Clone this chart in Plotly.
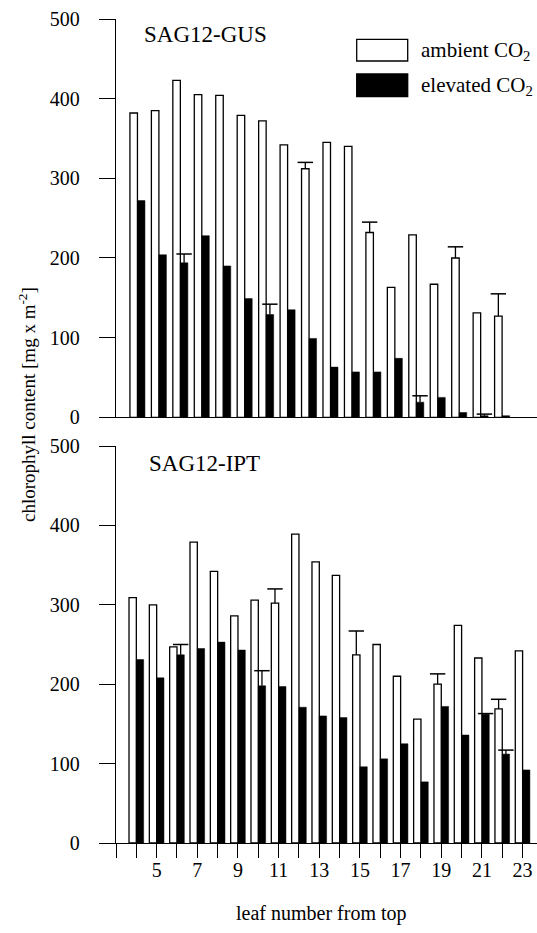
import plotly.graph_objects as go

# ---------------- data ----------------
top_leaves = list(range(4, 22))
top_ambient = [382, 385, 423, 405, 404, 379, 372, 342, 312, 345, 340, 232, 163, 229, 167, 200, 131, 127]
top_elevated = [272, 204, 194, 228, 190, 149, 129, 135, 99, 63, 57, 57, 74, 19, 25, 6, 2, 2]
top_ambient_err = [None, None, None, None, None, None, None, None, 8, None, None, 13, None, None, None, 14, None, 28]
top_elevated_err = [None, None, 11, None, None, None, 13, None, None, None, None, None, None, 8, None, None, 2, None]

bot_leaves = list(range(4, 24))
bot_ambient = [309, 300, 247, 379, 342, 286, 306, 302, 389, 354, 337, 237, 250, 210, 156, 200, 274, 233, 169, 242]
bot_elevated = [231, 208, 237, 245, 253, 243, 198, 197, 171, 160, 158, 96, 106, 125, 77, 172, 136, 162, 112, 92]
bot_ambient_err = [None, None, None, None, None, None, None, 18, None, None, None, 30, None, None, None, 13, None, None, 12, None]
bot_elevated_err = [None, None, 13, None, None, None, 19, None, None, None, None, None, None, None, None, None, None, 1, 5, None]

x_minor_tickvals = list(range(3, 24))
x_tickvals = [5, 7, 9, 11, 13, 15, 17, 19, 21, 23]
x_ticktext = ["5", "7", "9", "11", "13", "15", "17", "19", "21", "23"]
y_tickvals = [0, 100, 200, 300, 400, 500]

panel_labels = ["SAG12-GUS", "SAG12-IPT"]
series_names = ["ambient CO<sub>2</sub>", "elevated CO<sub>2</sub>"]

# ---------------- style ----------------
FONT = "Liberation Serif"
BW_TOP = 0.35
BW_BOT = 0.36
LW = 1.3

fig = go.Figure()


def add_panel(leaves, amb, ele, amb_err, ele_err, bw, xa, ya):
    fig.add_trace(go.Bar(x=leaves, y=amb, width=bw, offset=-bw,
                         marker=dict(color="white", line=dict(color="black", width=LW)),
                         xaxis=xa, yaxis=ya, showlegend=False))
    fig.add_trace(go.Bar(x=leaves, y=ele, width=bw, offset=0,
                         marker=dict(color="black", line=dict(color="black", width=0.5)),
                         xaxis=xa, yaxis=ya, showlegend=False))
    for vals, errs, shift in ((amb, amb_err, -bw / 2), (ele, ele_err, bw / 2)):
        xs, ys, es = [], [], []
        for lf, v, e in zip(leaves, vals, errs):
            if e is not None:
                xs.append(lf + shift)
                ys.append(v + e)
                es.append(e)
        fig.add_trace(go.Scatter(
            x=xs, y=ys, mode="markers",
            marker=dict(symbol="line-ew", size=11, color="black",
                        line=dict(color="black", width=1.5)),
            error_y=dict(type="data", symmetric=False, array=[0] * len(es),
                         arrayminus=es, width=0, thickness=LW, color="black"),
            xaxis=xa, yaxis=ya, showlegend=False, cliponaxis=False))


add_panel(top_leaves, top_ambient, top_elevated, top_ambient_err, top_elevated_err, BW_TOP, "x", "y")
add_panel(bot_leaves, bot_ambient, bot_elevated, bot_ambient_err, bot_elevated_err, BW_BOT, "x2", "y2")

W, H = 537, 933
ML, MR, MT, MB = 116, 0, 19, 90
PW, PH = W - ML - MR, H - MT - MB


def px(xp):
    return (xp - ML) / PW


def py(yp):
    return (H - MB - yp) / PH


yax = dict(range=[0, 500], tickvals=y_tickvals, showline=True, linecolor="black",
           linewidth=LW, ticks="outside", ticklen=16, tickwidth=LW, tickcolor="black",
           showgrid=False, zeroline=False, ticklabelstandoff=15,
           tickfont=dict(family=FONT, size=20, color="black"))

fig.update_layout(
    width=W, height=H,
    margin=dict(l=ML, r=MR, t=MT, b=MB, pad=0),
    paper_bgcolor="white", plot_bgcolor="white",
    barmode="overlay",
    font=dict(family=FONT, color="black"),
    xaxis=dict(domain=[0, 1], anchor="y", range=[3, 3 + PW / 21.45], showline=True,
               linecolor="black", linewidth=LW, ticks="", showticklabels=False,
               showgrid=False, zeroline=False),
    yaxis=dict(domain=[py(417.3), 1], anchor="x", **yax),
    xaxis2=dict(domain=[0, 1], anchor="y2", range=[3, 3 + PW / 20.33], showline=True,
                linecolor="black", linewidth=LW, ticks="outside", ticklen=14, tickwidth=LW,
                tickcolor="black", tickvals=x_tickvals, ticktext=x_ticktext,
                minor=dict(tickvals=x_minor_tickvals, ticks="outside", ticklen=14,
                           tickwidth=LW, tickcolor="black", showgrid=False),
                showgrid=False, zeroline=False, ticklabelstandoff=-5,
                tickfont=dict(family=FONT, size=20, color="black")),
    yaxis2=dict(domain=[0, py(446)], anchor="x2", **yax),
)

# panel labels
fig.add_annotation(text=panel_labels[0], xref="paper", yref="paper", x=px(142), y=py(34),
                   xanchor="left", yanchor="middle", showarrow=False,
                   font=dict(family=FONT, size=23, color="black"))
fig.add_annotation(text=panel_labels[1], xref="paper", yref="paper", x=px(147), y=py(463),
                   xanchor="left", yanchor="middle", showarrow=False,
                   font=dict(family=FONT, size=23, color="black"))

# legend
fig.add_shape(type="rect", xref="paper", yref="paper", x0=px(356.7), x1=px(407.7),
              y0=py(61), y1=py(39.3), fillcolor="white", line=dict(color="black", width=LW))
fig.add_shape(type="rect", xref="paper", yref="paper", x0=px(356.7), x1=px(407.7),
              y0=py(96.7), y1=py(74), fillcolor="black", line=dict(color="black", width=LW))
fig.add_annotation(text=series_names[0], xref="paper", yref="paper", x=px(419), y=py(51),
                   xanchor="left", yanchor="middle", showarrow=False,
                   font=dict(family=FONT, size=21, color="black"))
fig.add_annotation(text=series_names[1], xref="paper", yref="paper", x=px(419), y=py(86),
                   xanchor="left", yanchor="middle", showarrow=False,
                   font=dict(family=FONT, size=21, color="black"))

# axis titles
fig.add_annotation(text="chlorophyll content [mg x m<sup>-2</sup>]", xref="paper", yref="paper",
                   x=px(27), y=py(405), xanchor="center", yanchor="middle", textangle=-90,
                   showarrow=False, font=dict(family=FONT, size=19, color="black"))
fig.add_annotation(text="leaf number from top", xref="paper", yref="paper",
                   x=px(321.5), y=py(913), xanchor="center", yanchor="middle",
                   showarrow=False, font=dict(family=FONT, size=20, color="black"))

fig.write_html("out.html",
               config={"displayModeBar": False},
               post_script="document.body.style.margin='0';document.body.style.overflow='hidden';")
